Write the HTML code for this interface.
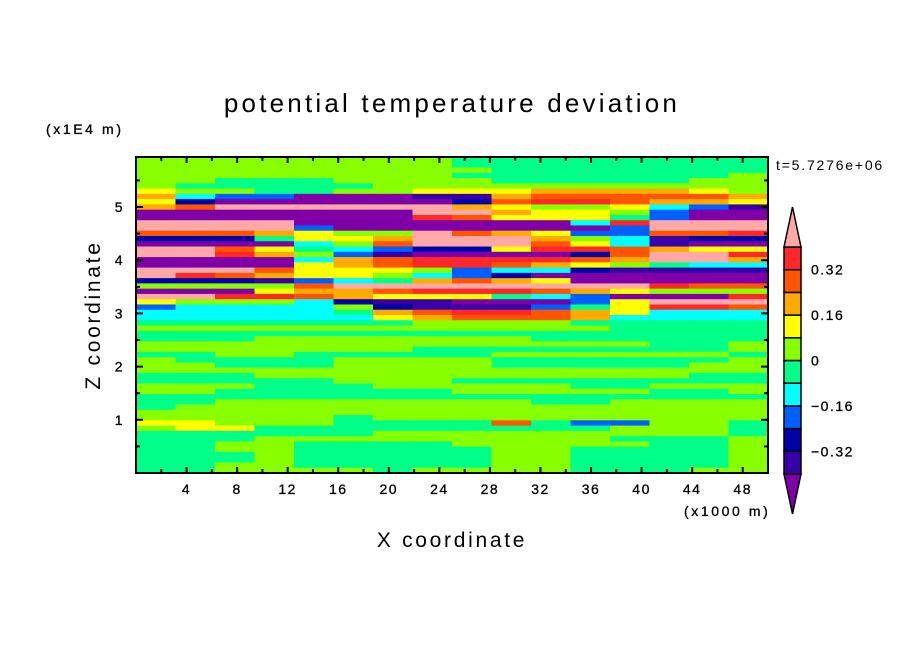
<!DOCTYPE html>
<html><head><meta charset="utf-8"><style>
body{margin:0;background:#fff;}
svg text{font-family:"Liberation Sans",sans-serif;fill:#000;}
</style></head><body>
<svg id="chart" width="904" height="654" viewBox="0 0 904 654" xmlns="http://www.w3.org/2000/svg">
<rect width="904" height="654" fill="#fff"/>
<text x="452" y="112" font-size="26" text-anchor="middle" letter-spacing="3.2">potential temperature deviation</text>
<text x="46" y="134" font-size="14" letter-spacing="2.6" stroke="#000" stroke-width="0.3">(x1E4 m)</text>
<text x="776" y="170" font-size="14" letter-spacing="1.8">t=5.7276e+06</text>
<text x="684" y="516" font-size="14" letter-spacing="2.6" stroke="#000" stroke-width="0.3">(x1000 m)</text>
<text x="452" y="547" font-size="21" text-anchor="middle" letter-spacing="2.7">X coordinate</text>
<text transform="translate(100,315) rotate(-90)" font-size="21" text-anchor="middle" letter-spacing="2.7">Z coordinate</text>
<g id="field"></g>
<g id="axes"></g>
<g id="cbar"></g>
</svg>
<script>
// field data: each char a contour level index (0..11) -> value
const levelValues=[-0.44,-0.36,-0.28,-0.20,-0.12,-0.04,0.04,0.12,0.20,0.28,0.36,0.44];
const fieldRows=[
"6666666655555555","6666666655555555","6666666665555555","6666666655555556",
"6655566665555566","6555556666666666","7665566777888876","8433000118999998",
"7200000029AA9887","89BBBBBB87667431","0000000BB8776300","0000000A97775300",
"BBBB00000004ABBB","BBBB300000003BBB","9998766B9873399A","2225778BBB864122",
"0000469BBB974100","BB97543227AA9877","BBA8631000029BBA","0000489AAAA98BB8",
"0000789AA9876544","BBB9777634421111","BA98776432000000","2221345898700000",
"66669BBBBBBBBA99","0007889AAA987666","BBAA98777543000A","7666421100037BBB",
"3444462111357AA9","44444589AA987444","4444447899984444","5555555666655555",
"6666666666665555","5555555555555555","5556666666555555","6666666666666556",
"6666666555555556","5566555556666665","6555566665555556","6655566665555566",
"6666666666666666","5556666666666655","5555566655555555","6665556666655666",
"6655555566666556","5555555555555555","5566666666556666","5666666666666666",
"6666666666666666","6666656666666666","7766655559533665","6775555555556665",
"5555556666666665","5556666666665556","5566555566666556","5566555556655556",
"5556555556655556","5556555556655556","5566555556655556","5566665666655566"];
const xTicks=[4,8,12,16,20,24,28,32,36,40,44,48];
const yTicks=[1,2,3,4,5];
const cbarLevels=[-0.4,-0.32,-0.24,-0.16,-0.08,0,0.08,0.16,0.24,0.32,0.4];
const cbarLabels=["0.32","0.16","0","−0.16","−0.32"];
const cbarLabelVals=[0.32,0.16,0,-0.16,-0.32];

const colors=["#8000a8","#3800a8","#0000a8","#0060ff","#00ffff","#00ff88","#88ff00","#ffff00","#ffaa00","#ff5500","#ff2828","#ffa8a8"];
const X0=136,X1=768,Y0=157,Y1=473;
const xScale=v=>X0+(v/50)*(X1-X0);
const zScale=v=>Y1-(v/5.94)*(Y1-Y0);
function levelOf(v){let i=0;for(let k=0;k<cbarLevels.length;k++){if(v>=cbarLevels[k])i=k+1;}return i;}
const NS="http://www.w3.org/2000/svg";
const field=document.getElementById('field');
const nr=fieldRows.length,nc=fieldRows[0].length;
for(let r=0;r<nr;r++){for(let c=0;c<nc;c++){
  const v=levelValues[parseInt(fieldRows[r][c],16)];
  const x0=xScale(c*50/nc),x1=xScale((c+1)*50/nc);
  const z1=5.94-r*5.94/nr,z0=5.94-(r+1)*5.94/nr;
  const rc=document.createElementNS(NS,'rect');
  rc.setAttribute('x',x0);rc.setAttribute('y',zScale(z1));
  rc.setAttribute('width',x1-x0+0.6);rc.setAttribute('height',zScale(z0)-zScale(z1)+0.6);
  rc.setAttribute('fill',colors[levelOf(v)]);
  
  
  field.appendChild(rc);
}}
const axes=document.getElementById('axes');
function ln(g,x1,y1,x2,y2,w){const l=document.createElementNS(NS,'line');l.setAttribute('x1',x1);l.setAttribute('y1',y1);l.setAttribute('x2',x2);l.setAttribute('y2',y2);l.setAttribute('stroke','#000');l.setAttribute('stroke-width',w);g.appendChild(l);return l;}
function tx(g,x,y,s,anchor,size){const t=document.createElementNS(NS,'text');t.setAttribute('x',x);t.setAttribute('y',y);t.setAttribute('text-anchor',anchor);t.setAttribute('font-size',size);t.setAttribute('letter-spacing','1.5');t.setAttribute('stroke','#000');t.setAttribute('stroke-width','0.3');t.textContent=s;g.appendChild(t);return t;}
const frame=document.createElementNS(NS,'rect');
frame.setAttribute('x',X0);frame.setAttribute('y',Y0);frame.setAttribute('width',X1-X0);frame.setAttribute('height',Y1-Y0);
frame.setAttribute('fill','none');frame.setAttribute('stroke','#000');frame.setAttribute('stroke-width','2');


axes.appendChild(frame);
for(let v=2;v<50;v+=2){const x=xScale(v);const L=v%4===0?6:4;ln(axes,x,Y1,x,Y1-L,2);ln(axes,x,Y0,x,Y0+L,2);}
for(let v=0.5;v<5.94;v+=0.5){const y=zScale(v);const L=Number.isInteger(v)?7:4;ln(axes,X0,y,X0+L,y,2);ln(axes,X1,y,X1-L,y,2);}
xTicks.forEach(v=>{const t=tx(axes,xScale(v),494,String(v),'middle',14);

});
yTicks.forEach(v=>{const t=tx(axes,124,zScale(v)+5,String(v),'end',14);

});
// colorbar
const cb=document.getElementById('cbar');
const CX0=784,CX1=801,CT=247,CB=474,nb=cbarLevels.length-1;
const bh=(CB-CT)/nb;
const cbY=v=>CB-(v-cbarLevels[0])/(cbarLevels[nb]-cbarLevels[0])*(CB-CT);
for(let i=0;i<nb;i++){const r=document.createElementNS(NS,'rect');
r.setAttribute('x',CX0);r.setAttribute('y',cbY(cbarLevels[i+1]));r.setAttribute('width',CX1-CX0);r.setAttribute('height',bh);
r.setAttribute('fill',colors[i+1]);r.setAttribute('stroke','#000');r.setAttribute('stroke-width','1.5');


cb.appendChild(r);}
const tri1=document.createElementNS(NS,'polygon');
tri1.setAttribute('points',`${CX0},${CT} ${CX1},${CT} ${(CX0+CX1)/2},207`);
tri1.setAttribute('fill',colors[11]);tri1.setAttribute('stroke','#000');tri1.setAttribute('stroke-width','1.5');


cb.appendChild(tri1);
const tri2=document.createElementNS(NS,'polygon');
tri2.setAttribute('points',`${CX0},${CB} ${CX1},${CB} ${(CX0+CX1)/2},514`);
tri2.setAttribute('fill',colors[0]);tri2.setAttribute('stroke','#000');tri2.setAttribute('stroke-width','1.5');


cb.appendChild(tri2);
cbarLabelVals.forEach((v,i)=>{const t=tx(cb,811,cbY(v)+5,cbarLabels[i],'start',14);

});
</script>
</body></html>
